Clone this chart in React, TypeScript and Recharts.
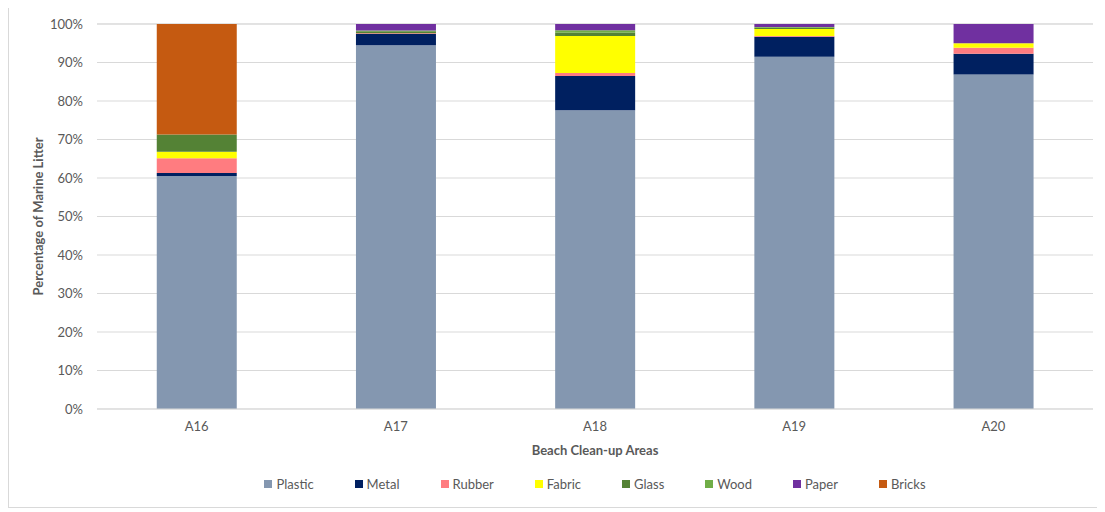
import { BarChart, Bar, XAxis, YAxis, CartesianGrid, Legend } from "recharts";

const categories = ["A16", "A17", "A18", "A19", "A20"];

// percentage of litter per material, per area
const plastic = [60.5, 94.5, 77.6, 91.5, 86.9];
const metal = [0.8, 2.9, 8.9, 5.2, 5.4];
const rubber = [3.8, 0.2, 0.8, 0.2, 1.5];
const fabric = [1.7, 0, 9.6, 1.8, 1.2];
const glass = [4.5, 0.5, 0.8, 0.3, 0];
const wood = [0, 0.2, 0.7, 0.2, 0];
const paper = [0, 1.7, 1.6, 0.8, 5.0];
const bricks = [28.7, 0, 0, 0, 0];

const yTicks = [0, 10, 20, 30, 40, 50, 60, 70, 80, 90, 100];

const series = [
  { key: "Plastic", values: plastic, color: "#8497B0" },
  { key: "Metal", values: metal, color: "#002060" },
  { key: "Rubber", values: rubber, color: "#FF7C80" },
  { key: "Fabric", values: fabric, color: "#FFFF00" },
  { key: "Glass", values: glass, color: "#548235" },
  { key: "Wood", values: wood, color: "#70AD47" },
  { key: "Paper", values: paper, color: "#7030A0" },
  { key: "Bricks", values: bricks, color: "#C55A11" },
];

const data = categories.map((name, i) => {
  const row: any = { name };
  series.forEach((s) => (row[s.key] = s.values[i]));
  return row;
});

const FONT = "Lato, 'Open Sans', sans-serif";
const TEXT = "#595959";

const LegendContent = () => (
  <div
    style={{
      display: "flex",
      justifyContent: "center",
      gap: 41,
      height: 20,
      alignItems: "center",
      fontFamily: FONT,
      fontSize: 13,
      color: TEXT,
    }}
  >
    {series.map((s) => (
      <div key={s.key} style={{ display: "flex", alignItems: "center", gap: 4 }}>
        <div style={{ width: 8, height: 8, backgroundColor: s.color }} />
        <span>{s.key}</span>
      </div>
    ))}
  </div>
);

export default function App() {
  return (
    <div
      style={{
        width: 1090,
        height: 500,
        marginTop: -2,
        border: "1px solid #D9D9D9",
        background: "#fff",
      }}
    >
      <BarChart
        width={1090}
        height={500}
        data={data}
        margin={{ top: 17, right: 6, left: 0, bottom: 13 }}
        barCategoryGap="30%"
      >
        <CartesianGrid vertical={false} stroke="#D9D9D9" />
        <XAxis
          dataKey="name"
          height={65}
          tickLine={false}
          axisLine={{ stroke: "#D9D9D9" }}
          tickSize={0}
          tickMargin={13}
          tick={{ fill: TEXT, fontSize: 13, fontFamily: FONT }}
          label={{
            value: "Beach Clean-up Areas",
            position: "insideBottom",
            offset: 19,
            style: { fill: TEXT, fontSize: 13, fontWeight: "bold", fontFamily: FONT },
          }}
        />
        <YAxis
          width={88}
          domain={[0, 100]}
          ticks={yTicks}
          tickFormatter={(v) => `${v}%`}
          axisLine={false}
          tickLine={false}
          tickSize={0}
          tickMargin={14}
          tick={{ fill: TEXT, fontSize: 13, fontFamily: FONT }}
          label={{
            value: "Percentage of Marine Litter",
            angle: -90,
            position: "insideLeft",
            offset: 29,
            style: { fill: TEXT, fontSize: 13, fontWeight: "bold", fontFamily: FONT, textAnchor: "middle" },
          }}
        />
        <Legend
          verticalAlign="bottom"
          content={<LegendContent />}
          wrapperStyle={{ left: 88, width: 996 }}
        />
        {series.map((s) => (
          <Bar key={s.key} dataKey={s.key} stackId="a" fill={s.color} isAnimationActive={false} />
        ))}
      </BarChart>
    </div>
  );
}
